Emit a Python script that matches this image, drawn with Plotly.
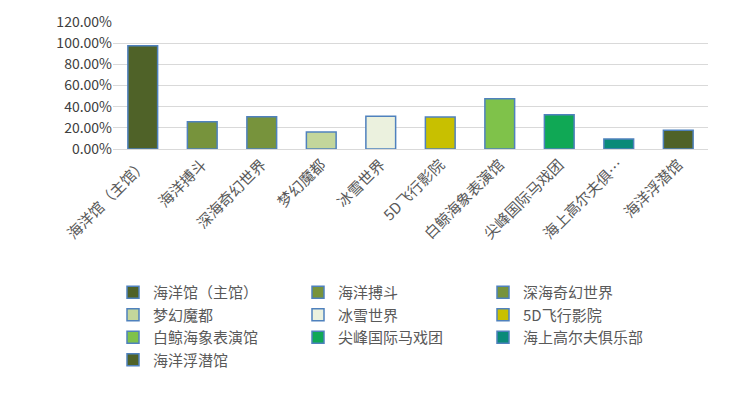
import plotly.graph_objects as go

cats = ["海洋馆（主馆）","海洋搏斗","深海奇幻世界","梦幻魔都","冰雪世界","5D飞行影院","白鲸海象表演馆","尖峰国际马戏团","海上高尔夫俱乐部","海洋浮潜馆"]
ticks = ["海洋馆（主馆）","海洋搏斗","深海奇幻世界","梦幻魔都","冰雪世界","5D飞行影院","白鲸海象表演馆","尖峰国际马戏团","海上高尔夫俱…","海洋浮潜馆"]
vals = [0.976, 0.258, 0.305, 0.16, 0.31, 0.302, 0.475, 0.324, 0.094, 0.177]
colors = ["#4f6228","#77933c","#77933c","#c3d69b","#ebf1de","#c8c000","#7fc24a","#10a855","#0a8a78","#4f6228"]

fig = go.Figure()
for c, t, v, col in zip(cats, ticks, vals, colors):
    fig.add_trace(go.Bar(x=[t], y=[v], name=c, marker=dict(color=col, line=dict(color="#4f81bd", width=1.5)), width=0.5))
fig.update_layout(
    width=746, height=403, barmode="overlay", plot_bgcolor="white", paper_bgcolor="white",
    margin=dict(l=105, r=46, t=14, b=262),
    font=dict(family="Noto Sans CJK SC", size=14, color="#595959"),
    yaxis=dict(range=[0, 1.2], dtick=0.2, tickformat=".2%", gridcolor="#d9d9d9", ticks="", zeroline=False,
               automargin=False, tickfont=dict(size=14, color="#404040")),
    xaxis=dict(tickangle=-45, showline=True, linecolor="#d9d9d9", automargin=False,
               tickfont=dict(size=15, color="#595959")),
    legend=dict(orientation="h", x=0.0, xanchor="left", y=-1.0, yanchor="top", entrywidth=140,
                font=dict(size=15, color="#595959")),
    showlegend=True,
)
fig.write_html("out.html")
